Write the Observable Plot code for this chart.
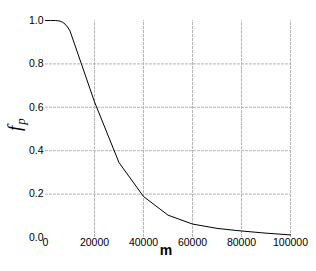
<!DOCTYPE html>
<html>
<head>
<meta charset="utf-8">
<script src="https://cdn.jsdelivr.net/npm/d3@7"></script>
<script src="https://cdn.jsdelivr.net/npm/@observablehq/plot@0.6"></script>
<style>
  html, body { margin: 0; padding: 0; background: #fff; }
</style>
</head>
<body>
<div id="chart"></div>
<script>
const m = [0, 2000, 4000, 5000, 6000, 7000, 8000, 9000, 10000, 20000, 30000, 40000, 50000, 60000, 70000, 80000, 90000, 100000];
const fp = [1, 1, 1, 0.999, 0.997, 0.992, 0.983, 0.970, 0.952, 0.625, 0.345, 0.189, 0.103, 0.062, 0.042, 0.030, 0.020, 0.012];
const xTicks = [0, 20000, 40000, 60000, 80000, 100000];
const yTicks = [0, 0.2, 0.4, 0.6, 0.8, 1.0];
const xGrid = [20000, 40000, 60000, 80000, 100000];
const yGrid = [0.2, 0.4, 0.6, 0.8];
const xLabel = "m";
const yLabelMain = "f";
const yLabelSub = "p";

const data = m.map((v, i) => ({m: v, fp: fp[i]}));

const chart = Plot.plot({
  width: 316,
  height: 271,
  marginLeft: 45,
  marginRight: 26,
  marginTop: 20,
  marginBottom: 34,
  style: {fontFamily: "Liberation Sans, Arial, sans-serif", fontSize: "10.5px", background: "#fff", color: "#000"},
  x: {domain: [0, 100000], ticks: xTicks, tickFormat: d => String(d), tickSize: 0, tickPadding: 1.5, label: null},
  y: {domain: [0, 1], ticks: yTicks, tickFormat: d3.format(".1f"), tickSize: 0, tickPadding: 2, label: null},
  marks: [
    Plot.ruleX(xGrid, {y1: 0, y2: 1, stroke: "#b4b4b4", strokeWidth: 1, strokeDasharray: "3,1"}),
    Plot.ruleY(yGrid, {x1: 0, x2: 100000, stroke: "#b4b4b4", strokeWidth: 1, strokeDasharray: "3,1"}),
    Plot.line(data, {x: "m", y: "fp", stroke: "#000", strokeWidth: 1, curve: "linear"})
  ]
});

d3.select(chart).selectAll("[aria-label='x-axis tick label'] text, [aria-label='y-axis tick label'] text").attr("fill", "#000");

const svg = d3.select(chart);
svg.append("text")
  .attr("x", 166).attr("y", 255)
  .attr("text-anchor", "middle")
  .attr("font-family", "Liberation Sans, Arial, sans-serif")
  .attr("font-weight", "bold")
  .attr("font-size", 14)
  .attr("fill", "#000")
  .text(xLabel);

const yl = svg.append("text")
  .attr("transform", "translate(21,131) rotate(-90)")
  .attr("text-anchor", "start")
  .attr("font-family", "Liberation Serif, DejaVu Serif, serif")
  .attr("font-style", "italic")
  .attr("font-size", 19)
  .attr("fill", "#000");
yl.append("tspan").text(yLabelMain);
yl.append("tspan").attr("font-size", 13).attr("dy", 4).attr("dx", 1).text(yLabelSub);

document.getElementById("chart").appendChild(chart);
</script>
</body>
</html>
